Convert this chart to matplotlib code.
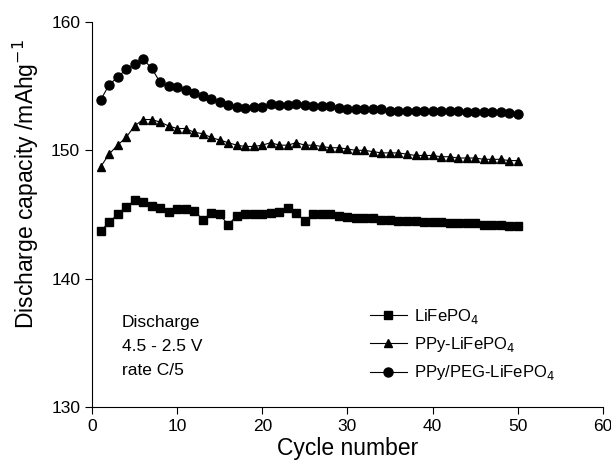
import matplotlib.pyplot as plt
import numpy as np

plt.rcParams['font.family'] = ['Liberation Sans', 'DejaVu Sans']

# cycle numbers 1..50
cycles = np.arange(1, 51)

lifepo4 = [143.7, 144.4, 145.0, 145.6, 146.1, 146.0, 145.7, 145.5, 145.2, 145.4,
           145.4, 145.3, 144.6, 145.1, 145.0, 144.2, 144.9, 145.0, 145.0, 145.0,
           145.1, 145.2, 145.5, 145.1, 144.5, 145.0, 145.0, 145.0, 144.9, 144.8,
           144.7, 144.7, 144.7, 144.6, 144.6, 144.5, 144.5, 144.5, 144.4, 144.4,
           144.4, 144.3, 144.3, 144.3, 144.3, 144.2, 144.2, 144.2, 144.1, 144.1]

ppy_lifepo4 = [148.7, 149.7, 150.4, 151.0, 151.9, 152.4, 152.4, 152.2, 151.9, 151.7,
               151.7, 151.4, 151.3, 151.0, 150.8, 150.6, 150.4, 150.3, 150.3, 150.4,
               150.6, 150.4, 150.4, 150.6, 150.4, 150.4, 150.3, 150.2, 150.2, 150.1,
               150.0, 150.0, 149.9, 149.8, 149.8, 149.8, 149.7, 149.6, 149.6, 149.6,
               149.5, 149.5, 149.4, 149.4, 149.4, 149.3, 149.3, 149.3, 149.2, 149.2]

ppy_peg_lifepo4 = [153.9, 155.1, 155.7, 156.3, 156.7, 157.1, 156.4, 155.3, 155.0, 154.9,
                   154.7, 154.5, 154.2, 154.0, 153.8, 153.5, 153.4, 153.3, 153.4, 153.4,
                   153.6, 153.5, 153.5, 153.6, 153.5, 153.45, 153.45, 153.45, 153.3, 153.2,
                   153.2, 153.2, 153.2, 153.2, 153.1, 153.1, 153.1, 153.1, 153.1, 153.05,
                   153.05, 153.05, 153.05, 153.0, 153.0, 153.0, 153.0, 153.0, 152.9, 152.8]

fig = plt.figure(figsize=(6.11, 4.66), dpi=100)
ax = fig.add_axes([0.1506, 0.1266, 0.836, 0.8262])

ax.plot(cycles, lifepo4, color='black', lw=0.8, marker='s', ms=5.5,
        label='LiFePO$_4$')
ax.plot(cycles, ppy_lifepo4, color='black', lw=0.8, marker='^', ms=6,
        label='PPy-LiFePO$_4$')
ax.plot(cycles, ppy_peg_lifepo4, color='black', lw=0.8, marker='o', ms=6.5,
        label='PPy/PEG-LiFePO$_4$')

ax.set_xlim(0, 60)
ax.set_ylim(130, 160)
ax.set_xticks(range(0, 61, 10))
ax.set_yticks([130, 140, 150, 160])
ax.spines['top'].set_visible(False)
ax.spines['right'].set_visible(False)
ax.tick_params(direction='out', length=5, labelsize=12.5, width=0.8)
ax.set_xlabel('Cycle number', fontsize=16.5, labelpad=2)
ax.set_ylabel('Discharge capacity /mAhg$^{-1}$', fontsize=16.5)
ax.yaxis.set_label_coords(-0.1, 0.58)

ax.text(3.5, 134.75, 'Discharge\n4.5 - 2.5 V\nrate C/5', fontsize=12.5,
        linespacing=1.75, va='center', ha='left')

ax.legend(loc='lower left', bbox_to_anchor=(0.515, 0.025), frameon=False,
          fontsize=12, handlelength=2.2, labelspacing=0.55, handletextpad=0.45)

fig.savefig('out.png', dpi=100)
